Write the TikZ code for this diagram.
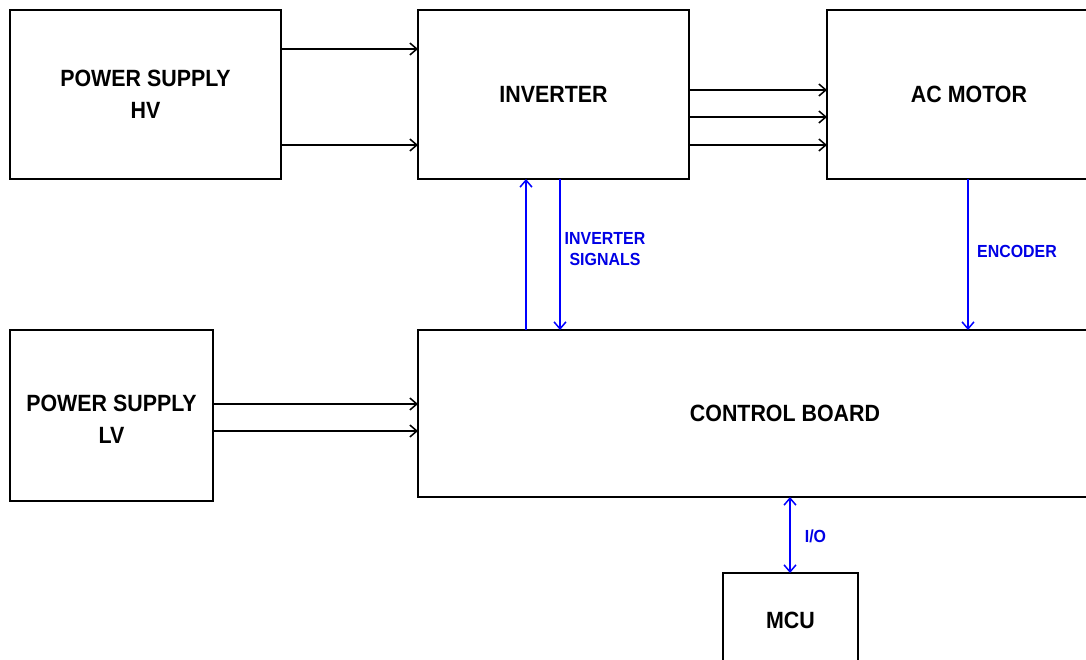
\documentclass[tikz,border=0pt]{standalone}
\usepackage{fontspec}
\setmainfont{Liberation Sans}[FakeStretch=0.91]
\usetikzlibrary{arrows.meta}
\begin{document}
\begin{tikzpicture}[x=1pt,y=-1pt,
  blk/.style={draw=black,line width=1.3pt,fill=white},
  lbl/.style={font=\fontsize{23.5}{32}\selectfont\bfseries,align=center,text=black},
  blbl/.style={font=\fontsize{17.5}{21}\selectfont\bfseries,align=center,text=blue!90!black},
  tip/.tip={Straight Barb[length=7pt,width=12pt,line width=1.5pt]},
  pw/.style={draw=black,line width=1.4pt,-tip},
  sg/.style={draw=blue,line width=1.4pt,-tip},
  sgb/.style={draw=blue,line width=1.4pt,tip-tip}]
\useasboundingbox (0,0) rectangle (1086,660);
\clip (0,0) rectangle (1086,660);
% boxes
\draw[blk] (10,10) rectangle (281,179);
\draw[blk] (418,10) rectangle (689,179);
\draw[blk] (827,10) rectangle (1111,179);
\draw[blk] (10,330) rectangle (213,501);
\draw[blk,line width=1.9pt] (418,330) rectangle (1152,497);
\draw[blk] (723,573) rectangle (858,667);
% nodes (text)
\node[lbl] (hv) at (145.5,94.5) {POWER SUPPLY\\HV};
\node[lbl] (inv) at (553.5,94.5) {INVERTER};
\node[lbl] (acm) at (969,94.5) {AC MOTOR};
\node[lbl] (lv) at (111.5,419.5) {POWER SUPPLY\\LV};
\node[lbl] (cb) at (785,413.5) {CONTROL BOARD};
\node[lbl] (mcu) at (790.5,620) {MCU};
% anchor coordinates
\coordinate (hvA) at (281,49);  \coordinate (invA) at (418,49);
\coordinate (hvB) at (281,145); \coordinate (invB) at (418,145);
\coordinate (invC) at (689,90);  \coordinate (acmC) at (827,90);
\coordinate (invD) at (689,117); \coordinate (acmD) at (827,117);
\coordinate (invE) at (689,145); \coordinate (acmE) at (827,145);
\coordinate (lvA) at (213,404); \coordinate (cbA) at (418,404);
\coordinate (lvB) at (213,431); \coordinate (cbB) at (418,431);
\coordinate (cbU) at (526,330); \coordinate (invU) at (526,179);
\coordinate (invS) at (560,179); \coordinate (cbS) at (560,330);
\coordinate (acmEnc) at (968,179); \coordinate (cbEnc) at (968,330);
\coordinate (cbIO) at (790,497); \coordinate (mcuIO) at (790,573);
% connectors
\draw[pw] (hvA) -- (invA);
\draw[pw] (hvB) -- (invB);
\draw[pw] (invC) -- (acmC);
\draw[pw] (invD) -- (acmD);
\draw[pw] (invE) -- (acmE);
\draw[pw] (lvA) -- (cbA);
\draw[pw] (lvB) -- (cbB);
\draw[sg] (cbU) -- (invU);
\draw[sg] (invS) -- (cbS);
\draw[sg] (acmEnc) -- (cbEnc);
\draw[sgb] (cbIO) -- (mcuIO);
% labels
\node[blbl] (sigl) at (605,249) {INVERTER\\SIGNALS};
\node[blbl] (encl) at (1017,251) {ENCODER};
\node[blbl] (iol) at (815.5,536.5) {I/O};
\end{tikzpicture}
\end{document}
